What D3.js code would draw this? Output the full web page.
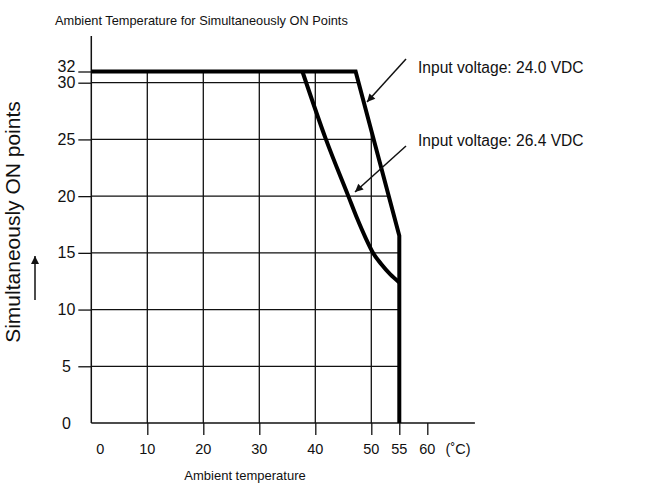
<!DOCTYPE html>
<html><head><meta charset="utf-8">
<script src="https://cdn.jsdelivr.net/npm/d3@7"></script>
<style>
body{margin:0;background:#fff}
svg{display:block}
text{font-family:"Liberation Sans",Arial,Helvetica,sans-serif;fill:#111}
</style>
</head><body>
<svg id="c" width="655" height="490"></svg>
<script>
// ---- data ----
const xTickValues = [10, 20, 30, 40, 50, 55, 60];
const xTickLabels = ["0", "10", "20", "30", "40", "50", "55", "60"];
const yTickValues = [5, 10, 15, 20, 25, 30, 32];
const yTickLabels = ["0", "5", "10", "15", "20", "25", "30", "32"];
const gridX = [10, 20, 30, 40, 50];
const gridY = [5, 10, 15, 20, 25, 30];
const curve24 = [[0, 32], [47.2, 32], [55, 16.5], [55, 0]];
const curve264 = [[37.7, 32], [41.9, 25], [45.9, 20], [47.5, 18], [49, 16.3], [50.3, 15], [51.8, 14], [53.4, 13.1], [55, 12.4]];
const titleText = "Ambient Temperature for Simultaneously ON Points";
const xTitle = "Ambient temperature";
const yTitle = "Simultaneously ON points";
const unitText = "(\u02DAC)";
const label24 = "Input voltage: 24.0 VDC";
const label264 = "Input voltage: 26.4 VDC";

// ---- scales ----
const svg = d3.select("#c");
const x = d3.scaleLinear().domain([0, 60]).range([91.3, 427.3]);
const y = d3.scaleLinear().domain([0, 30, 32]).range([423, 82.7, 71.5]);

// defs
const defs = svg.append("defs");
defs.append("marker").attr("id", "ah").attr("viewBox", "0 0 10 10")
  .attr("refX", 10).attr("refY", 5).attr("markerWidth", 10).attr("markerHeight", 8)
  .attr("markerUnits", "userSpaceOnUse").attr("orient", "auto")
  .append("path").attr("d", "M0,0L10,5L0,10Z").attr("fill", "#111");

const line = d3.line().x(d => x(d[0])).y(d => y(d[1]));
defs.append("clipPath").attr("id", "under")
  .append("path").attr("d", line(curve24.concat([[0, 0]])) + "Z");

// grid
const grid = svg.append("g").attr("clip-path", "url(#under)")
  .attr("stroke", "#111").attr("stroke-width", 1.3);
grid.selectAll(".gx").data(gridX).join("line")
  .attr("x1", d => x(d)).attr("x2", d => x(d)).attr("y1", y(0)).attr("y2", y(32));
grid.selectAll(".gy").data(gridY).join("line")
  .attr("x1", x(0)).attr("x2", x(55)).attr("y1", d => y(d)).attr("y2", d => y(d));

// x axis
const xAxis = d3.axisBottom(x).tickValues(xTickValues).tickSize(12).tickFormat("");
const gx = svg.append("g").attr("transform", `translate(0,${y(0)})`).call(xAxis);
gx.select(".domain").remove();
gx.selectAll(".tick line").attr("stroke", "#111").attr("stroke-width", 1.3);
svg.append("line").attr("x1", x(0)).attr("x2", x(68.5)).attr("y1", y(0)).attr("y2", y(0))
  .attr("stroke", "#111").attr("stroke-width", 1.5);
svg.selectAll(".xl").data([0].concat(xTickValues)).join("text")
  .attr("x", (d, i) => x(d) + (d === 0 ? 9 : 0)).attr("y", 453.5)
  .attr("text-anchor", "middle").attr("font-size", 14.5)
  .text((d, i) => xTickLabels[i]);
svg.append("text").attr("x", x(65.5)).attr("y", 453.5).attr("text-anchor", "middle")
  .attr("font-size", 14.5).text(unitText);

// y axis
const yAxis = d3.axisLeft(y).tickValues(yTickValues).tickSize(13).tickFormat("");
const gy = svg.append("g").attr("transform", `translate(${x(0)},0)`).call(yAxis);
gy.select(".domain").remove();
gy.selectAll(".tick line").attr("stroke", "#111").attr("stroke-width", 1.3);
svg.append("line").attr("x1", x(0)).attr("x2", x(0)).attr("y1", y(0)).attr("y2", 36)
  .attr("stroke", "#111").attr("stroke-width", 1.5);
svg.selectAll(".yl").data([0].concat(yTickValues)).join("text")
  .attr("x", 66.5).attr("y", d => y(d) + (d === 32 ? -5 : 0)).attr("dy", "0.35em")
  .attr("text-anchor", "middle").attr("font-size", 16)
  .text((d, i) => yTickLabels[i]);

// curves
svg.append("path").attr("d", line(curve24)).attr("fill", "none")
  .attr("stroke", "#000").attr("stroke-width", 4).attr("stroke-linejoin", "miter");
svg.append("path").attr("d", d3.line().x(d => x(d[0])).y(d => y(d[1])).curve(d3.curveMonotoneX)(curve264))
  .attr("fill", "none").attr("stroke", "#000").attr("stroke-width", 4);

// annotations
svg.append("line").attr("x1", 406).attr("y1", 59).attr("x2", 367).attr("y2", 102)
  .attr("stroke", "#111").attr("stroke-width", 1.5).attr("marker-end", "url(#ah)");
svg.append("line").attr("x1", 406).attr("y1", 146).attr("x2", 355).attr("y2", 192)
  .attr("stroke", "#111").attr("stroke-width", 1.5).attr("marker-end", "url(#ah)");
svg.append("text").attr("x", 418).attr("y", 73).attr("font-size", 15.6).text(label24);
svg.append("text").attr("x", 418).attr("y", 146).attr("font-size", 15.6).text(label264);

// titles
svg.append("text").attr("x", 55).attr("y", 25).attr("font-size", 12.8).text(titleText);
svg.append("text").attr("x", 245).attr("y", 480).attr("text-anchor", "middle")
  .attr("font-size", 13).text(xTitle);
svg.append("text").attr("transform", "translate(20,222) rotate(-90)")
  .attr("text-anchor", "middle").attr("font-size", 21).text(yTitle);
svg.append("line").attr("x1", 35).attr("y1", 300).attr("x2", 35).attr("y2", 256)
  .attr("stroke", "#111").attr("stroke-width", 1.5).attr("marker-end", "url(#ah)");
</script>
</body></html>
